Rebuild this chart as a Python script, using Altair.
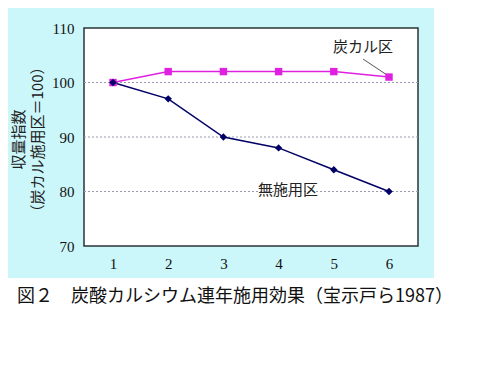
import altair as alt
import pandas as pd

years = [1, 2, 3, 4, 5, 6]
tankaru = [100, 102, 102, 102, 102, 101]
mushiyou = [100, 97, 90, 88, 84, 80]
series_names = ["炭カル区", "無施用区"]

label_x = [5.53, 4.17]
label_y = [106.5, 80.3]
leader_x = [5.53, 5.96]
leader_y = [104.3, 101.4]

y_title = ["収量指数", "（炭カル施用区＝100）"]
caption = "図２　炭酸カルシウム連年施用効果（宝示戸ら1987）"

W, H = 334, 218

df = pd.DataFrame({
    "year": years * 2,
    "value": tankaru + mushiyou,
    "series": [series_names[0]] * 6 + [series_names[1]] * 6,
})
lab_df = pd.DataFrame({"x": label_x, "y": label_y, "t": series_names})
lead_df = pd.DataFrame({"x": leader_x, "y": leader_y})

xscale = alt.Scale(domain=[0.475, 6.525], nice=False, zero=False)
yscale = alt.Scale(domain=[70, 110], nice=False, zero=False)
color = alt.Scale(domain=series_names, range=["#E020E0", "#000066"])

base = alt.Chart(df)

bg = alt.Chart(pd.DataFrame({"a": [0]})).mark_rect(color="#CCF7FA").encode(
    x=alt.value(-84), x2=alt.value(350), y=alt.value(-28), y2=alt.value(250)
)
plotbg = alt.Chart(pd.DataFrame({"a": [0]})).mark_rect(
    color="white", stroke="#2a3535", strokeWidth=1.5
).encode(x=alt.value(0), x2=alt.value(W), y=alt.value(0), y2=alt.value(H))

grid = alt.Chart(pd.DataFrame({"g": [80, 90, 100]})).mark_rule(
    color="#9a9ab5", strokeDash=[2, 2], strokeWidth=1
).encode(y=alt.Y("g:Q", scale=yscale))

lines = base.mark_line(strokeWidth=1.5).encode(
    x=alt.X("year:Q", scale=xscale,
            axis=alt.Axis(values=years, format="d", title=None, grid=False,
                          domain=False, ticks=False, labelPadding=10,
                          labelFont="Liberation Serif", labelFontSize=15,
                          labelColor="#111", zindex=1)),
    y=alt.Y("value:Q", scale=yscale,
            axis=alt.Axis(values=[70, 80, 90, 100, 110], grid=False,
                          domain=False, ticks=False, labelPadding=10,
                          labelFont="Liberation Serif", labelFontSize=15,
                          labelColor="#111", zindex=1,
                          title=y_title, titleFont="Noto Sans CJK JP",
                          titleFontSize=15, titleFontWeight="normal",
                          titleColor="#222", titleAngle=-90,
                          titleX=-66, titleY=111, titleAlign="center",
                          titleBaseline="middle", titleLineHeight=19)),
    color=alt.Color("series:N", scale=color, legend=None),
    detail="series:N",
)

pts_sq = base.transform_filter(alt.datum.series == series_names[0]).mark_point(
    shape="square", filled=True, size=55, opacity=1
).encode(x=alt.X("year:Q", scale=xscale), y=alt.Y("value:Q", scale=yscale),
         color=alt.Color("series:N", scale=color, legend=None))
pts_dm = base.transform_filter(alt.datum.series == series_names[1]).mark_point(
    shape="diamond", filled=True, size=55, opacity=1
).encode(x=alt.X("year:Q", scale=xscale), y=alt.Y("value:Q", scale=yscale),
         color=alt.Color("series:N", scale=color, legend=None))

labels = alt.Chart(lab_df).mark_text(
    font="Noto Sans CJK JP", fontSize=15, color="#222"
).encode(x=alt.X("x:Q", scale=xscale), y=alt.Y("y:Q", scale=yscale), text="t:N")

leader = alt.Chart(lead_df).mark_line(color="#555", strokeWidth=1).encode(
    x=alt.X("x:Q", scale=xscale), y=alt.Y("y:Q", scale=yscale)
)

cap = alt.Chart(pd.DataFrame({"t": [caption]})).mark_text(
    font="Noto Sans CJK JP", fontSize=18, align="left", baseline="middle",
    color="#111"
).encode(x=alt.value(-67), y=alt.value(269), text="t:N")

chart = alt.layer(bg, plotbg, grid, lines, leader, pts_sq, pts_dm, labels, cap).properties(
    width=W, height=H,
    autosize=alt.AutoSizeParams(type="none"),
    padding={"left": 76, "top": 20, "right": 64, "bottom": 100},
).configure_view(stroke=None).configure(background="white")

chart.save("out.html", embed_options={"renderer": "svg", "actions": False})
